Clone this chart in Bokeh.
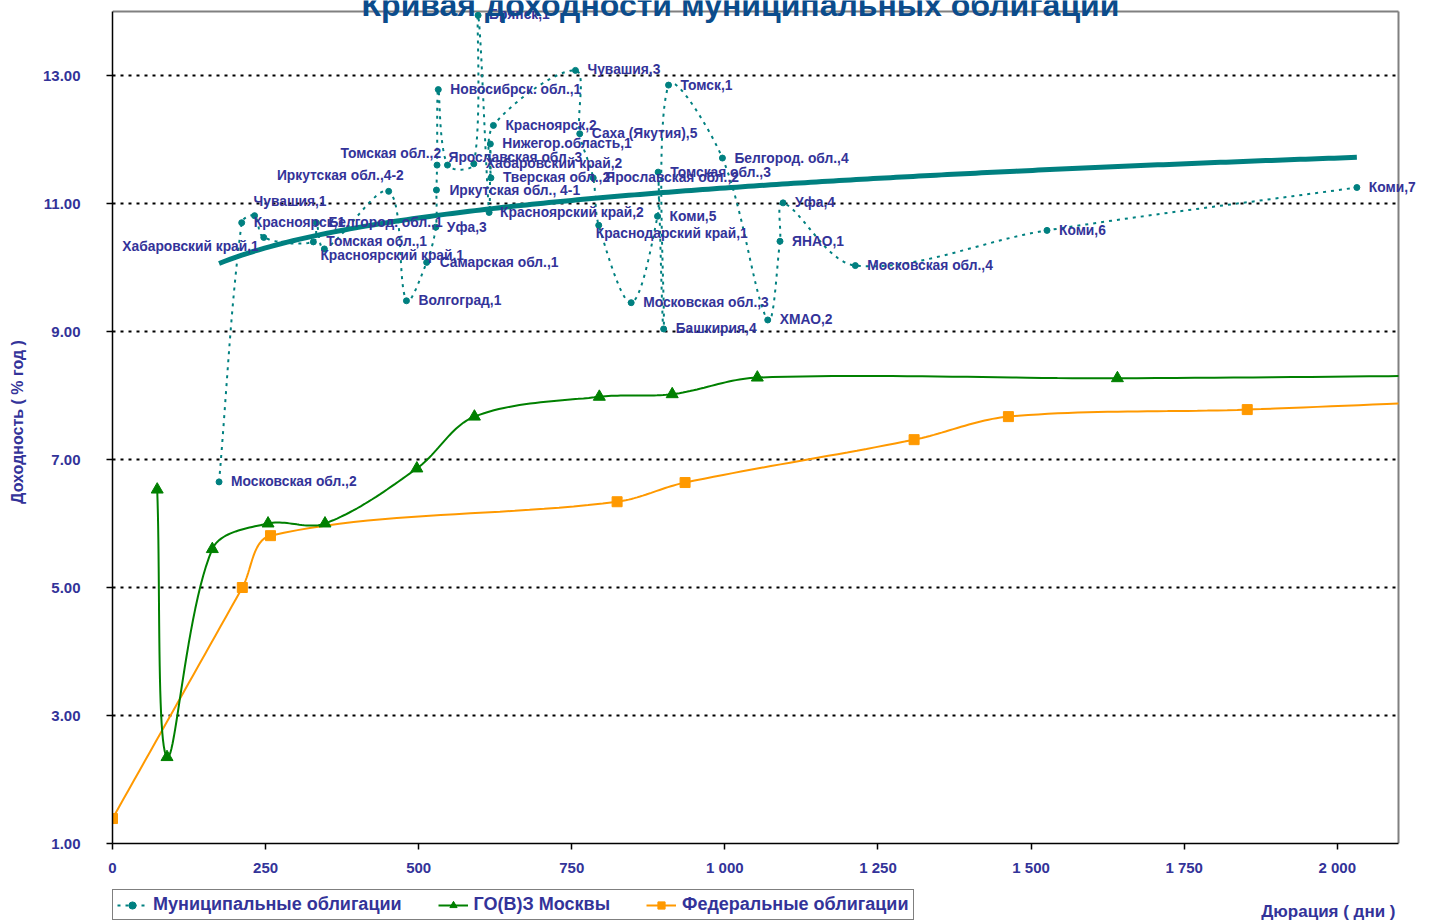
import math
from bokeh.plotting import figure
from bokeh.layouts import column
from bokeh.models import (Range1d, FixedTicker, Label, Legend, LegendItem,
                          ColumnDataSource)
from bokeh.embed import file_html
from bokeh.resources import INLINE

# ---------------- data ----------------
muni_names = ["Московская обл.,2", "Красноярск,1", "Чувашия,1", "Хабаровский край,1",
              "Томская обл.,1", "Белгород. обл.,1", "Красноярский край,1",
              "Иркутская обл.,4-2", "Волгоград,1", "Самарская обл.,1", "Уфа,3",
              "Иркутская обл., 4-1", "Томская обл.,2", "Новосибрск. обл.,1",
              "Ярославская обл.,3", "Хабаровский край,2", "Брянск,1",
              "Красноярский край,2", "Нижегор.область,1", "Тверская обл.,2",
              "Красноярск,2", "Чувашия,3", "Саха (Якутия),5", "Ярославская обл.,2",
              "Краснодарский край,1", "Московская обл.,3", "Коми,5", "Томская обл.,3",
              "Башкирия,4", "Томск,1", "Белгород. обл.,4", "ХМАО,2", "ЯНАО,1", "Уфа,4",
              "Московская обл.,4", "Коми,6", "Коми,7"]
muni_dur = [174, 211, 232, 247, 328, 333, 346, 451, 480, 513, 528, 529, 530, 532,
            547, 590, 597, 615, 617, 618, 622, 756, 763, 785, 794, 847, 890, 891,
            900, 908, 996, 1070, 1090, 1095, 1213, 1526, 2032]
muni_yield = [6.65, 10.70, 10.81, 10.47, 10.40, 10.70, 10.29, 11.19, 9.48, 10.08,
              10.63, 11.21, 11.60, 12.78, 11.60, 11.62, 13.94, 10.86, 11.93, 11.40,
              12.22, 13.08, 12.09, 11.40, 10.66, 9.45, 10.80, 11.49, 9.04, 12.85,
              11.71, 9.18, 10.41, 11.01, 10.03, 10.58, 11.25]
# logarithmic trend of the municipal curve, y = a*ln(x) + b
trend_a = 0.675
trend_b = 6.58

gko_dur = [73, 89, 163, 254, 347, 497, 591, 795, 914, 1053, 1641, 2400]
gko_yield = [6.53, 2.35, 5.60, 6.00, 6.00, 6.86, 7.67, 7.98, 8.02, 8.28, 8.27, 8.33]

fed_dur = [0, 212, 258, 824, 935, 1309, 1463, 1853, 2400]
fed_yield = [1.39, 5.00, 5.81, 6.34, 6.64, 7.31, 7.67, 7.78, 8.00]

x_ticks = [0, 250, 500, 750, 1000, 1250, 1500, 1750, 2000]
x_tick_labels = ["0", "250", "500", "750", "1 000", "1 250", "1 500", "1 750", "2 000"]
y_ticks = [1, 3, 5, 7, 9, 11, 13]
y_tick_labels = ["1.00", "3.00", "5.00", "7.00", "9.00", "11.00", "13.00"]
X_MIN, X_MAX = 0, 2100
Y_MIN, Y_MAX = 1, 14

title_text = "Кривая доходности муниципальных облигаций"
y_title = "Доходность ( % год )"
x_title = "Дюрация ( дни )"
legend_labels = ["Муниципальные облигации", "ГО(В)З Москвы", "Федеральные облигации"]

# label placement (screen px offsets from each point, layout only)
lab_dx = [12, 12, -1, -5, 13, 12, -4, 15, 12, 13, 11, 13, 4, 12, 1, 12, 11, 11, 12, 12,
          12, 12, 12, 12, -3, 12, 12, 12, 12, 12, 12, 12, 12, 12, 12, 12, 12]
lab_dy = [0, 0, -14, 9, 0, 0, 7, -16, 0, 0, 0, 0, -12, 0, -8, 0, -1, 0, 0, 0,
          0, -1, 0, 0, 8, 0, 0, 0, 0, 0, 0, 0, 0, 0, 0, 0, 0]
lab_align = ["left", "left", "left", "right", "left", "left", "left", "right", "left",
             "left", "left", "left", "right", "left", "left", "left", "left", "left",
             "left", "left", "left", "left", "left", "left", "left", "left", "left",
             "left", "left", "left", "left", "left", "left", "left", "left", "left", "left"]

# ---------------- layout ----------------
W = 1432
H1, H2 = 882, 39                 # main chart, legend strip
FL, FR_PAD, FB = 112, 12, 843    # frame left, right padding, frame bottom (px)
FRAME_W = W - FL - FR_PAD
KX = 1286.0 / (X_MAX - X_MIN)    # px per day
KY = 64.0                        # px per percent
x_hi = X_MIN + FRAME_W / KX
y_hi = Y_MIN + FB / KY


def smooth(xs, ys, n=24):
    """Excel-like smoothed line: cubic Bezier, tangents scaled by segment lengths."""
    P = [(x * KX, y * KY) for x, y in zip(xs, ys)]
    m = len(P)
    out_x, out_y = [], []

    def d(a, b):
        return math.hypot(b[0] - a[0], b[1] - a[1])

    for i in range(m - 1):
        p0 = P[i - 1] if i > 0 else P[i]
        p1, p2 = P[i], P[i + 1]
        p3 = P[i + 2] if i + 2 < m else P[i + 1]
        d01, d12, d23 = d(p0, p1), d(p1, p2), d(p2, p3)
        f1 = d12 / (d01 + d12) / 3.0 if d01 + d12 > 0 else 0
        f2 = d12 / (d12 + d23) / 3.0 if d12 + d23 > 0 else 0
        c1 = (p1[0] + (p2[0] - p0[0]) * f1, p1[1] + (p2[1] - p0[1]) * f1)
        c2 = (p2[0] - (p3[0] - p1[0]) * f2, p2[1] - (p3[1] - p1[1]) * f2)
        for k in range(n + (1 if i == m - 2 else 0)):
            t = k / n
            a, b, c, e = (1 - t) ** 3, 3 * (1 - t) ** 2 * t, 3 * (1 - t) * t ** 2, t ** 3
            out_x.append((a * p1[0] + b * c1[0] + c * c2[0] + e * p2[0]) / KX)
            out_y.append((a * p1[1] + b * c1[1] + c * c2[1] + e * p2[1]) / KY)
    return out_x, out_y


def clip_right(xs, ys, xmax):
    ox, oy = [], []
    for i in range(len(xs)):
        if xs[i] <= xmax:
            ox.append(xs[i]); oy.append(ys[i])
        else:
            if i > 0 and xs[i - 1] <= xmax:
                t = (xmax - xs[i - 1]) / (xs[i] - xs[i - 1])
                ox.append(xmax); oy.append(ys[i - 1] + t * (ys[i] - ys[i - 1]))
            break
    return ox, oy


def in_range(xs, ys):
    pts = [(a, b) for a, b in zip(xs, ys) if X_MIN <= a <= X_MAX]
    return [a for a, _ in pts], [b for _, b in pts]


tr_x = [muni_dur[0] + (muni_dur[-1] - muni_dur[0]) * k / 200 for k in range(201)]
tr_y = [trend_a * math.log(v) + trend_b for v in tr_x]

# ---------------- figure ----------------
FONT = "Liberation Sans"
LBL = "#333399"
TEAL = "#008080"
GREEN = "#008000"
ORANGE = "#FF9900"

p = figure(width=W, height=H1, output_backend="svg", toolbar_location=None,
           x_range=Range1d(X_MIN, x_hi), y_range=Range1d(Y_MIN, y_hi),
           min_border_left=FL, min_border_right=FR_PAD, min_border_top=0,
           min_border_bottom=H1 - FB)
p.background_fill_color = "white"
p.border_fill_color = "white"
p.outline_line_color = None
p.xgrid.visible = False
p.ygrid.visible = False

# gridlines and plot-area border (only over the chart's own x/y span)
gy = y_ticks[1:]
p.segment(x0=[X_MIN] * len(gy), x1=[X_MAX] * len(gy), y0=gy, y1=gy,
          line_color="black", line_width=2, line_dash="3 5")
p.segment(x0=[X_MIN, X_MAX], x1=[X_MAX, X_MAX], y0=[Y_MAX, Y_MIN], y1=[Y_MAX, Y_MAX],
          line_color="#808080", line_width=2)

for ax in (p.xaxis[0], p.yaxis[0]):
    ax.axis_line_color = "black"
    ax.axis_line_width = 1.5
    ax.major_tick_line_color = "black"
    ax.major_tick_line_width = 1.5
    ax.major_tick_in = 0
    ax.major_tick_out = 6
    ax.minor_tick_line_color = None
    ax.major_label_text_font = FONT
    ax.major_label_text_font_style = "bold"
    ax.major_label_text_font_size = "15px"
    ax.major_label_text_color = LBL
    ax.axis_label_text_font = FONT
    ax.axis_label_text_font_style = "bold"
    ax.axis_label_text_color = LBL

p.xaxis.bounds = (X_MIN, X_MAX)
p.xaxis.ticker = FixedTicker(ticks=x_ticks)
p.xaxis.major_label_overrides = {t: s for t, s in zip(x_ticks, x_tick_labels)}
p.xaxis.major_label_standoff = 9

p.yaxis.bounds = (Y_MIN, Y_MAX)
p.yaxis.ticker = FixedTicker(ticks=y_ticks)
p.yaxis.major_label_overrides = {t: s for t, s in zip(y_ticks, y_tick_labels)}
p.yaxis.major_label_standoff = 26
p.yaxis.axis_label = y_title
p.yaxis.axis_label_text_font_size = "16px"
p.yaxis.axis_label_standoff = 14

# federal
fx, fy = clip_right(*smooth(fed_dur, fed_yield), X_MAX)
p.line(fx, fy, line_color=ORANGE, line_width=2)
p.scatter(*in_range(fed_dur, fed_yield), marker="square", size=10,
          fill_color=ORANGE, line_color=ORANGE)
# GKO Moscow
gx, gyy = clip_right(*smooth(gko_dur, gko_yield), X_MAX)
p.line(gx, gyy, line_color=GREEN, line_width=2)
p.scatter(*in_range(gko_dur, gko_yield), marker="triangle", size=12,
          fill_color=GREEN, line_color=GREEN)
# municipal
mxs, mys = smooth(muni_dur, muni_yield)
p.line(mxs, mys, line_color=TEAL, line_width=2, line_dash="3 5")
p.scatter(muni_dur, muni_yield, marker="circle", size=6, fill_color=TEAL, line_color=TEAL)
# trend
p.line(tr_x, tr_y, line_color=TEAL, line_width=5)

src = ColumnDataSource(dict(x=muni_dur, y=muni_yield, t=muni_names,
                            dx=lab_dx, dy=lab_dy, al=lab_align))
p.text(x="x", y="y", text="t", x_offset="dx", y_offset="dy", text_align="al",
       source=src, text_baseline="middle", text_font={"value": FONT},
       text_font_style="bold", text_font_size="13.8px", text_color=LBL)

# title (frame-relative screen coordinates)
p.add_layout(Label(x=628, y=FB - 4, x_units="screen", y_units="screen", text=title_text,
                   text_align="center", text_baseline="alphabetic", text_font=FONT,
                   text_font_style="bold", text_font_size="32px", text_color="#0B4C8C"))

# ---------------- legend strip (frame aligned with the chart's frame) ----------------
p2 = figure(width=W, height=H2, output_backend="svg", toolbar_location=None,
            x_range=Range1d(0, FRAME_W), y_range=Range1d(0, H2),
            min_border_left=FL, min_border_right=FR_PAD, min_border_top=0,
            min_border_bottom=0, x_axis_location=None, y_axis_location=None)
p2.grid.visible = False
p2.outline_line_color = None
p2.background_fill_color = "white"
p2.border_fill_color = "white"
# legend swatches (styled like the series; placed outside the strip's visible range)
l1 = p2.line([-20, -10], [-5, -5], line_color=TEAL, line_width=2, line_dash="3 5")
s1 = p2.scatter([-15], [-5], marker="circle", size=6, fill_color=TEAL, line_color=TEAL)
l2 = p2.line([-20, -10], [-5, -5], line_color=GREEN, line_width=2)
s2 = p2.scatter([-15], [-5], marker="triangle", size=12, fill_color=GREEN, line_color=GREEN)
l3 = p2.line([-20, -10], [-5, -5], line_color=ORANGE, line_width=2)
s3 = p2.scatter([-15], [-5], marker="square", size=10, fill_color=ORANGE, line_color=ORANGE)

legend = Legend(items=[LegendItem(label=legend_labels[0], renderers=[l1, s1]),
                       LegendItem(label=legend_labels[1], renderers=[l2, s2]),
                       LegendItem(label=legend_labels[2], renderers=[l3, s3])],
                location=(0, 1), orientation="horizontal",
                border_line_color="black", border_line_width=1,
                background_fill_color="white", background_fill_alpha=1,
                padding=4, spacing=36, label_standoff=6, margin=0,
                glyph_width=30, glyph_height=18,
                label_text_font=FONT, label_text_font_style="bold",
                label_text_font_size="18px", label_text_color=LBL)
p2.add_layout(legend)
p2.add_layout(Label(x=1395 - FL, y=H2 - 29, x_units="screen", y_units="screen",
                    text=x_title, text_align="right", text_baseline="middle",
                    text_font=FONT, text_font_style="bold", text_font_size="17px",
                    text_color=LBL))

open("out.html", "w").write(file_html(column(p, p2, spacing=0), INLINE))
